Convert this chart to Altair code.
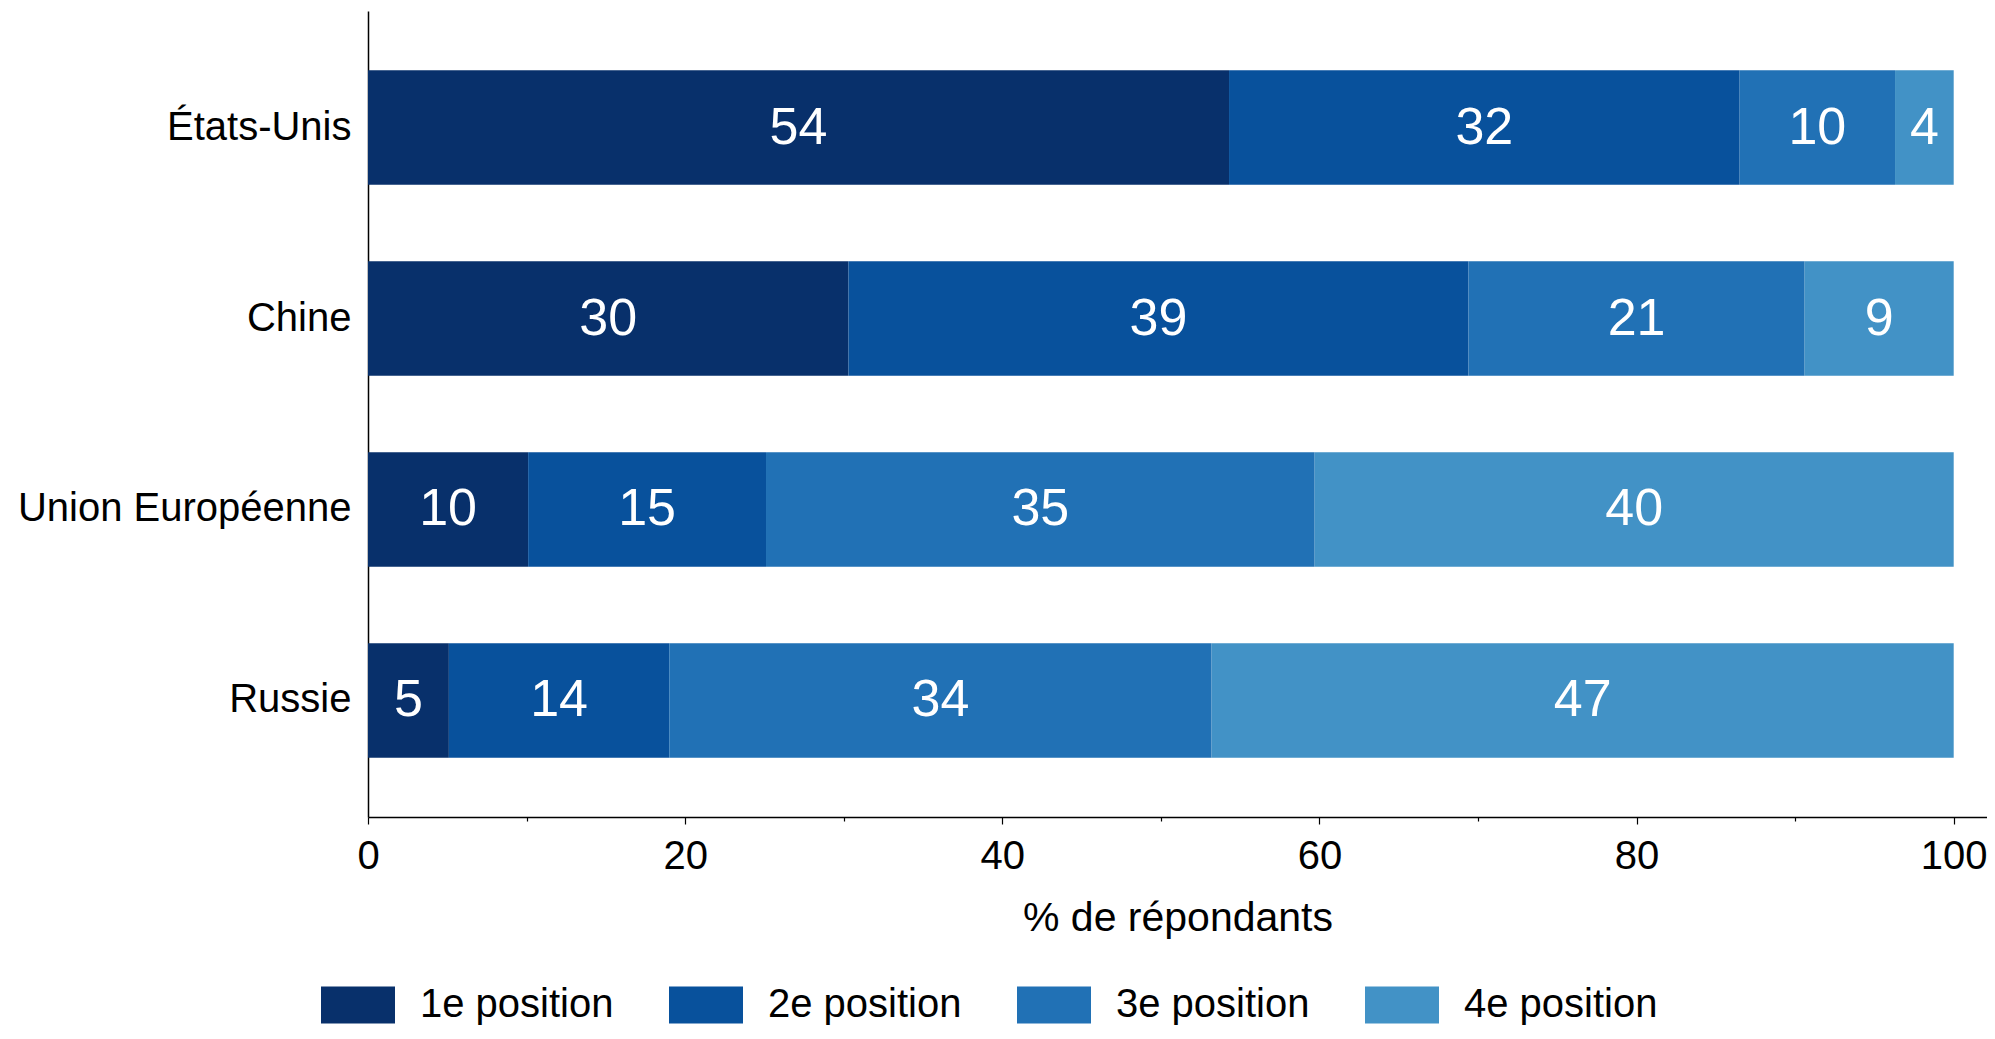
import altair as alt
import pandas as pd

countries = ["États-Unis", "Chine", "Union Européenne", "Russie"]
positions = ["1e position", "2e position", "3e position", "4e position"]
colors = ["#08306b", "#08519c", "#2171b5", "#4292c6"]

pos1 = [54.3, 30.3, 10.1, 5.1]
pos2 = [32.2, 39.1, 15.0, 13.9]
pos3 = [9.8, 21.2, 34.6, 34.2]
pos4 = [3.7, 9.4, 40.3, 46.8]
tick_values = [0, 10, 20, 30, 40, 50, 60, 70, 80, 90, 100]

rows = []
for series, (pos, vals) in enumerate(zip(positions, [pos1, pos2, pos3, pos4])):
    for c, v in zip(countries, vals):
        rows.append({"country": c, "position": pos, "order": series, "value": v})
df = pd.DataFrame(rows)

FONT = "Liberation Sans"
FS = 40

base = alt.Chart(df).transform_stack(
    stack="value", groupby=["country"], as_=["x0", "x1"],
    sort=[alt.SortField("order", order="ascending")]
).transform_calculate(mid="(datum.x0 + datum.x1) / 2")

yenc = alt.Y(
    "country:N", sort=countries,
    scale=alt.Scale(paddingInner=0.4, paddingOuter=0.31),
    axis=alt.Axis(title=None, ticks=False, labelPadding=17, labelFontSize=FS,
                  labelFont=FONT, labelColor="black", domainColor="black",
                  domainWidth=1.5, labelLimit=600),
)

bars = base.mark_bar().encode(
    x=alt.X("x0:Q", scale=alt.Scale(domain=[0, 102.1], nice=False, zero=True),
            axis=alt.Axis(
                title="% de répondants", values=tick_values,
                labelExpr="datum.value % 20 === 0 ? datum.label : ''",
                tickSize={"condition": {"test": "datum.value % 20 === 0", "value": 7}, "value": 4},
                tickColor="black", tickWidth=1.2, domainColor="black", domainWidth=1.5,
                labelFontSize=FS, labelFont=FONT, labelColor="black", labelPadding=12,
                titleFontSize=41, titleFont=FONT, titleFontWeight="normal",
                titleColor="black", titlePadding=22, grid=False, labelFlush=False,
            )),
    x2="x1:Q",
    y=yenc,
    color=alt.Color("position:N", scale=alt.Scale(domain=positions, range=colors),
                    legend=alt.Legend(
                        title=None, orient="none", legendX=-47, legendY=957,
                        direction="horizontal", columns=4,
                        symbolType="M-1,-0.5H1V0.5H-1Z", symbolSize=5476,
                        symbolStrokeWidth=0, symbolOpacity=1,
                        labelFontSize=FS, labelFont=FONT, labelColor="black",
                        labelOffset=25, columnPadding=55, labelLimit=400,
                    )),
)

text = base.mark_text(color="white", fontSize=52, font=FONT, baseline="middle").encode(
    x=alt.X("mid:Q"),
    y=alt.Y("country:N", sort=countries),
    text=alt.Text("value:Q", format=".0f"),
)

chart = alt.layer(bars, text).properties(
    width=1619, height=806,
    autosize=alt.AutoSizeParams(type="none"),
    padding={"left": 360, "top": 3, "right": 0, "bottom": 214},
).configure_view(stroke=None)

chart.save("out.html", embed_options={"renderer": "svg", "actions": False})
